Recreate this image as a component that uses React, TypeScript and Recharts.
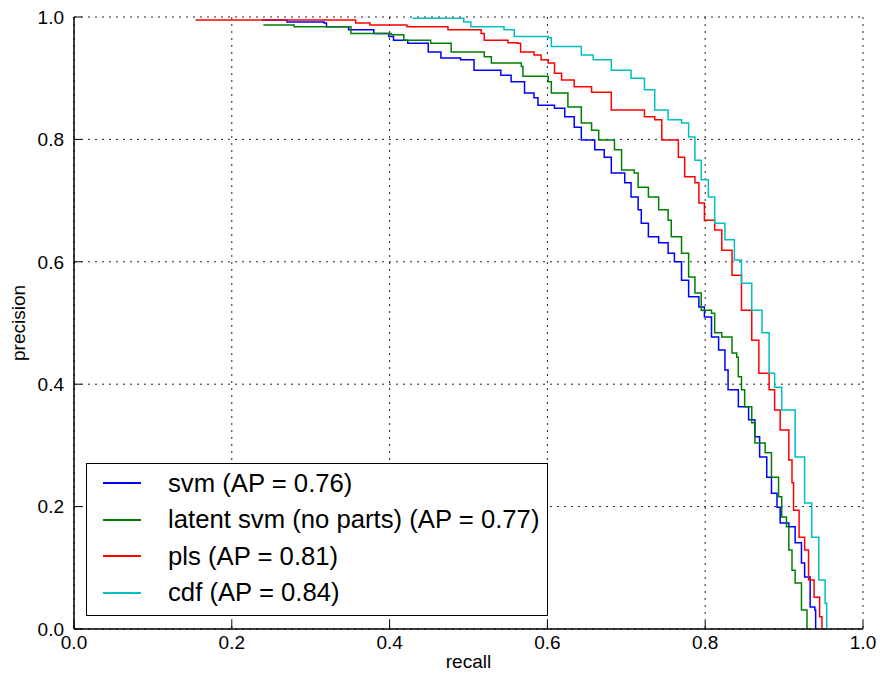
import React from "react"
import { LineChart, Line, XAxis, YAxis, CartesianGrid, Legend } from "recharts"

// precision/recall curves
const svmRecall = [0.238, 0.27, 0.317, 0.32, 0.348, 0.38, 0.399, 0.405, 0.423, 0.449, 0.465, 0.49, 0.507, 0.541, 0.554, 0.571, 0.583, 0.588, 0.609, 0.622, 0.634, 0.643, 0.66, 0.672, 0.681, 0.698, 0.706, 0.715, 0.719, 0.728, 0.741, 0.753, 0.761, 0.77, 0.779, 0.792, 0.799, 0.808, 0.817, 0.825, 0.829, 0.842, 0.855, 0.863, 0.869, 0.878, 0.884, 0.891, 0.895, 0.906, 0.914, 0.922, 0.926, 0.933, 0.939, 0.94]
const svmPrecision = [0.995, 0.992, 0.99, 0.984, 0.979, 0.973, 0.968, 0.962, 0.957, 0.943, 0.933, 0.93, 0.913, 0.905, 0.894, 0.876, 0.868, 0.856, 0.851, 0.837, 0.82, 0.799, 0.783, 0.771, 0.745, 0.729, 0.706, 0.685, 0.663, 0.641, 0.631, 0.614, 0.6, 0.57, 0.543, 0.526, 0.51, 0.477, 0.456, 0.423, 0.391, 0.363, 0.342, 0.314, 0.281, 0.248, 0.222, 0.199, 0.173, 0.167, 0.141, 0.108, 0.085, 0.036, 0.031, 0]

const latentRecall = [0.24, 0.279, 0.347, 0.351, 0.402, 0.418, 0.452, 0.478, 0.52, 0.529, 0.567, 0.569, 0.601, 0.605, 0.626, 0.643, 0.656, 0.665, 0.685, 0.694, 0.71, 0.715, 0.728, 0.741, 0.753, 0.757, 0.77, 0.779, 0.787, 0.795, 0.808, 0.812, 0.821, 0.834, 0.84, 0.842, 0.846, 0.85, 0.859, 0.863, 0.876, 0.884, 0.893, 0.897, 0.903, 0.906, 0.91, 0.914, 0.922, 0.929]
const latentPrecision = [0.987, 0.984, 0.984, 0.973, 0.971, 0.962, 0.957, 0.943, 0.935, 0.925, 0.919, 0.903, 0.894, 0.876, 0.853, 0.827, 0.815, 0.799, 0.783, 0.75, 0.745, 0.722, 0.706, 0.685, 0.668, 0.641, 0.614, 0.575, 0.549, 0.521, 0.516, 0.484, 0.477, 0.451, 0.444, 0.412, 0.391, 0.363, 0.337, 0.304, 0.288, 0.248, 0.216, 0.183, 0.167, 0.129, 0.096, 0.075, 0.031, 0]

const plsRecall = [0.154, 0.355, 0.357, 0.373, 0.375, 0.42, 0.422, 0.472, 0.474, 0.516, 0.52, 0.55, 0.562, 0.566, 0.583, 0.592, 0.601, 0.609, 0.618, 0.634, 0.656, 0.681, 0.723, 0.736, 0.745, 0.766, 0.774, 0.787, 0.792, 0.799, 0.812, 0.821, 0.834, 0.846, 0.859, 0.868, 0.881, 0.888, 0.895, 0.906, 0.91, 0.912, 0.919, 0.926, 0.931, 0.938, 0.945, 0.948]
const plsPrecision = [0.995, 0.995, 0.99, 0.99, 0.987, 0.987, 0.984, 0.984, 0.979, 0.973, 0.962, 0.958, 0.957, 0.943, 0.938, 0.93, 0.925, 0.908, 0.897, 0.886, 0.877, 0.848, 0.837, 0.832, 0.799, 0.771, 0.739, 0.729, 0.696, 0.668, 0.652, 0.619, 0.578, 0.521, 0.472, 0.418, 0.391, 0.358, 0.325, 0.276, 0.239, 0.194, 0.15, 0.129, 0.08, 0.052, 0.02, 0]

const cdfRecall = [0.429, 0.494, 0.503, 0.545, 0.558, 0.601, 0.605, 0.643, 0.658, 0.681, 0.706, 0.723, 0.736, 0.753, 0.77, 0.779, 0.787, 0.795, 0.804, 0.812, 0.825, 0.837, 0.846, 0.859, 0.872, 0.881, 0.888, 0.897, 0.914, 0.926, 0.935, 0.944, 0.952, 0.954]
const cdfPrecision = [0.998, 0.992, 0.984, 0.979, 0.968, 0.966, 0.952, 0.938, 0.93, 0.913, 0.9, 0.881, 0.848, 0.832, 0.827, 0.804, 0.766, 0.734, 0.706, 0.663, 0.636, 0.603, 0.565, 0.521, 0.484, 0.418, 0.395, 0.358, 0.281, 0.206, 0.15, 0.08, 0.042, 0]

const ticks = [0, 0.2, 0.4, 0.6, 0.8, 1.0]

const toPoints = (r: number[], p: number[]) => r.map((v, i) => ({ r: v, p: p[i] }))

const series = [
  { name: "svm (AP = 0.76)", color: "#0000ff", data: toPoints(svmRecall, svmPrecision) },
  { name: "latent svm (no parts) (AP = 0.77)", color: "#008000", data: toPoints(latentRecall, latentPrecision) },
  { name: "pls (AP = 0.81)", color: "#ff0000", data: toPoints(plsRecall, plsPrecision) },
  { name: "cdf (AP = 0.84)", color: "#00bfbf", data: toPoints(cdfRecall, cdfPrecision) },
]

const font = "'Liberation Sans', Arial, Helvetica, sans-serif"
const tickStyle = { fill: "#000", fontSize: 19, fontFamily: font }
const fmt = (v: number) => v.toFixed(1)

function LegendBox() {
  return (
    <div
      style={{
        boxSizing: "border-box",
        width: 462,
        height: 153,
        border: "1.5px solid #000",
        background: "#fff",
        paddingTop: 1,
        fontFamily: font,
        fontSize: 25.7,
        color: "#000",
      }}
    >
      {series.map((s) => (
        <div key={s.name} style={{ display: "flex", alignItems: "center", height: 36.5 }}>
          <div style={{ width: 38, height: 2, background: s.color, marginLeft: 16, marginRight: 27 }} />
          <span style={{ whiteSpace: "nowrap" }}>{s.name}</span>
        </div>
      ))}
    </div>
  )
}

export default function App() {
  return (
    <div style={{ position: "absolute", left: 0, top: 0, width: 880, height: 683, background: "#fff" }}>
      <LineChart width={880} height={683} margin={{ top: 17, right: 17, bottom: 0, left: 10 }}>
        <CartesianGrid stroke="#222" strokeDasharray="2 5" strokeWidth={1} />
        <XAxis
          type="number"
          dataKey="r"
          domain={[0, 1]}
          ticks={ticks}
          tickFormatter={fmt}
          height={54}
          tickSize={-8}
          tickMargin={15}
          tick={tickStyle}
          stroke="#000"
          axisLine={{ stroke: "#000", strokeWidth: 1.5 }}
          tickLine={{ stroke: "#000", strokeWidth: 1 }}
          label={{ value: "recall", position: "insideBottom", offset: 15, fill: "#000", fontSize: 19, fontFamily: font }}
        />
        <XAxis
          xAxisId="top"
          orientation="top"
          type="number"
          domain={[0, 1]}
          ticks={ticks}
          height={0}
          tickSize={-8}
          tick={false}
          axisLine={{ stroke: "#000", strokeWidth: 1.5 }}
          tickLine={{ stroke: "#000", strokeWidth: 1 }}
        />
        <YAxis
          type="number"
          dataKey="p"
          domain={[0, 1]}
          ticks={ticks}
          tickFormatter={fmt}
          width={64}
          tickSize={-8}
          tickMargin={18}
          tick={tickStyle}
          axisLine={{ stroke: "#000", strokeWidth: 1.5 }}
          tickLine={{ stroke: "#000", strokeWidth: 1 }}
          label={{
            value: "precision",
            angle: -90,
            position: "insideLeft",
            offset: 8,
            fill: "#000",
            fontSize: 19,
            fontFamily: font,
            style: { textAnchor: "middle" },
          }}
        />
        <YAxis
          yAxisId="right"
          orientation="right"
          type="number"
          domain={[0, 1]}
          ticks={ticks}
          width={0}
          tickSize={-8}
          tick={false}
          axisLine={{ stroke: "#000", strokeWidth: 1.5 }}
          tickLine={{ stroke: "#000", strokeWidth: 1 }}
        />
        <Legend
          verticalAlign="middle"
          align="center"
          content={() => <LegendBox />}
          wrapperStyle={{ position: "absolute", left: 86, top: 463, width: 462, height: 153 }}
        />
        {series.map((s) => (
          <Line
            key={s.name}
            name={s.name}
            data={s.data}
            dataKey="p"
            type="stepAfter"
            stroke={s.color}
            strokeWidth={1.5}
            dot={false}
            activeDot={false}
            isAnimationActive={false}
          />
        ))}
      </LineChart>
    </div>
  )
}
